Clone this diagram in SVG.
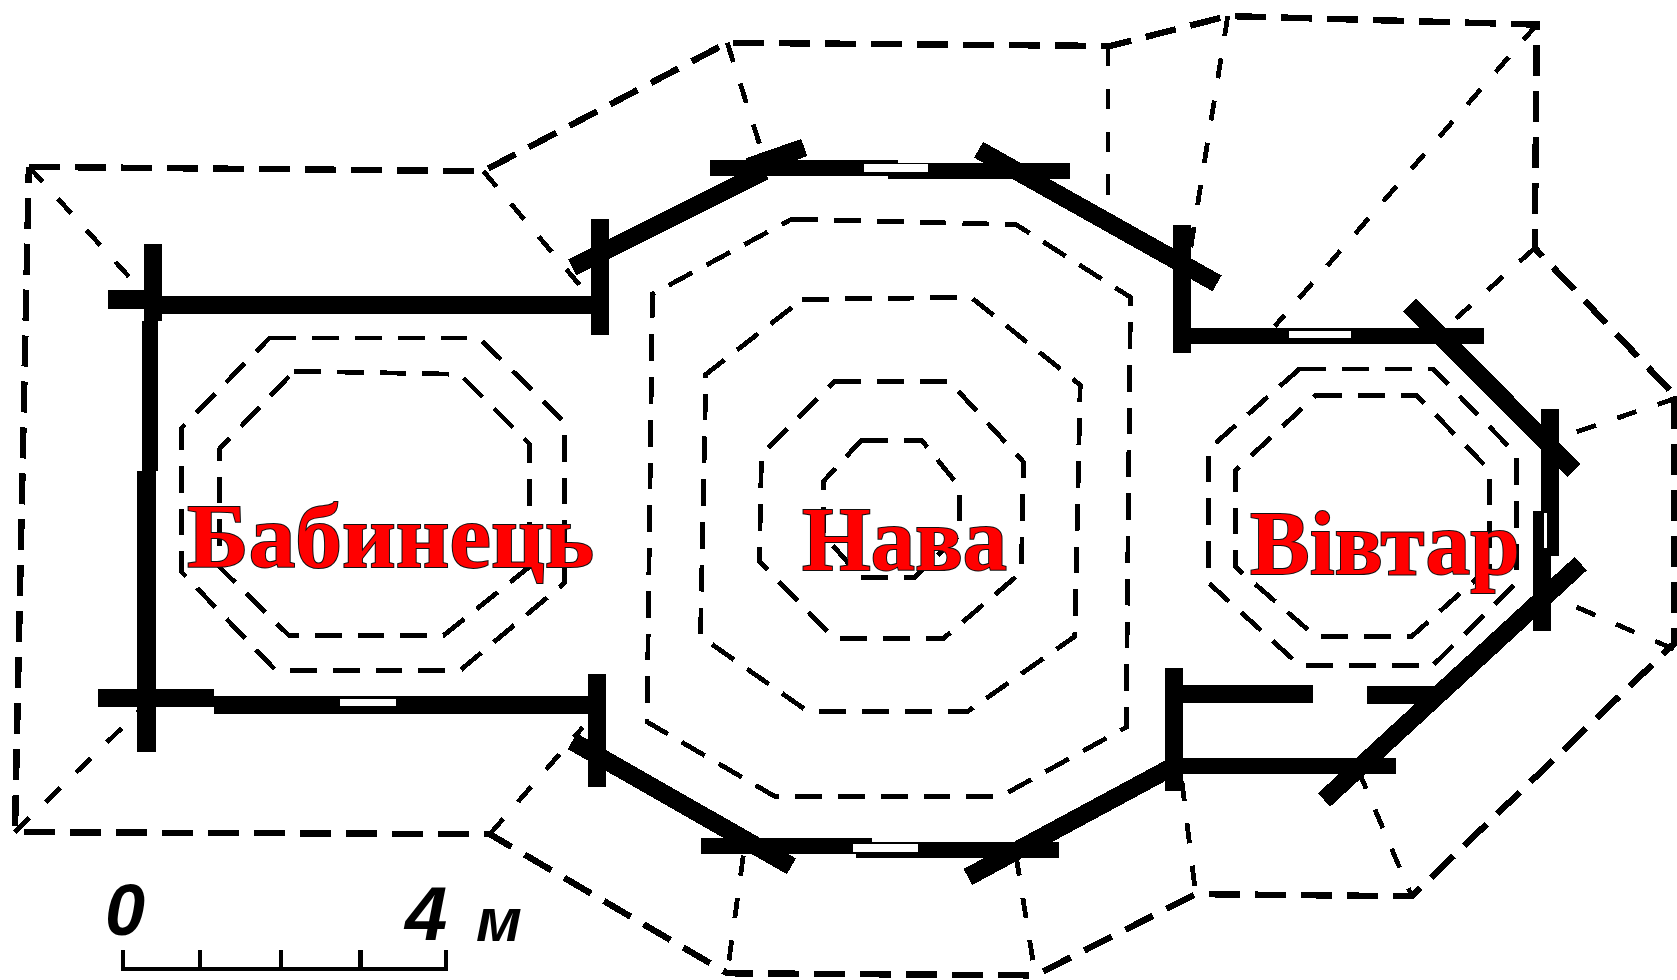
<svg xmlns="http://www.w3.org/2000/svg" width="1677" height="980" viewBox="0 0 1677 980">
<style>
.g{shape-rendering:crispEdges}
.w{fill:none;stroke:#000;stroke-width:17;stroke-linecap:butt}
.b{stroke-width:15}
.t{stroke-width:17}
.s{fill:none;stroke:#fff;stroke-width:7}
.v{stroke-width:3.5}
.d{fill:none;stroke:#000;stroke-width:4.5;stroke-dasharray:25 15}
.h{stroke-width:6;stroke-dasharray:29 14}
.f{stroke-width:4.5;stroke-dasharray:19 21}
.l{font-family:"Liberation Serif","DejaVu Serif",serif;font-size:92px;font-weight:700;fill:#f00;stroke:#111;stroke-width:2;paint-order:stroke}
.n{font-family:"Liberation Sans",Arial,sans-serif;font-style:italic;font-weight:700;fill:#000}
</style>
<rect width="1677" height="980" fill="#fff"/>
<g id="connectors" class="g" transform="scale(1.0695)">
<path class="d h" d="M27 156L452 160L680 40L1038 43L1148 15L1437 23L1435 232L1568 372"/>
<path class="d h" d="M1565 372V602L1320 838L1118 836L968 912L680 910L458 780L14 778L27 156"/>
<path class="d f" d="M27 156L140 280M452 160L555 282M680 40L715 150M1036 43V205M1148 15L1112 240M1437 23L1192 305M1435 232L1350 308M1568 372L1450 412M1565 607L1445 555M458 780L545 680M14 778L135 660M695 800L680 910M950 800L968 912M1105 730L1118 836M1270 720L1320 838"/>
</g>
<g id="walls" class="g" transform="scale(1.0695)">
<path class="w t" d="M101 280H150M150 285H555M92 653H200M200 659H555"/>
<path class="w t" d="M143 228V300M137 440V703M561 205V313M558 630V736M1105 210V330M1098 625V740M1449 382V520M1442 478V590"/>
<path class="w b" d="M140 300V440M664 157H840M830 160H1000M655 791H815M800 795H990M1110 314H1388M1100 716H1305"/>
<path class="w" d="M535 250L715 160M700 156L752 138M915 140L1138 265M535 693L740 810M905 820L1100 715M1318 285L1472 440M1478 527L1238 748"/>
<path class="w t" d="M1105 649H1228M1278 650H1345"/>
<path class="s" d="M318 657H370M808 157H868M798 793H858M1205 313H1263"/>
<path class="s v" d="M1445 480V512"/>
</g>
<g id="babynets" class="g" transform="scale(1.0695)">
<path class="d" d="M252 316H448L528 395V545L430 627H258L170 535V400Z"/>
<path class="d" d="M275 347L430 350L495 415V530L415 594H270L205 530V420Z"/>
</g>
<g id="nava" class="g" transform="scale(1.0695)">
<path class="d" d="M740 205L950 210L1057 278L1053 680L935 745H725L605 675L610 275Z"/>
<path class="d" d="M750 280L908 278L1010 360L1005 595L905 665H755L655 595L660 350Z"/>
<path class="d" d="M780 357H888L957 432L955 535L882 597H780L710 525L712 425Z"/>
<path class="d" d="M805 412H862L897 455V500L855 540H805L770 500V450Z"/>
</g>
<g id="vivtar" class="g" transform="scale(1.0695)">
<path class="d" d="M1215 345H1340L1418 425V545L1340 622H1215L1130 545V420Z"/>
<path class="d" d="M1230 370H1325L1393 440V530L1320 595H1230L1155 530V440Z"/>
</g>
<g id="scale" class="g" transform="scale(1.0695)">
<path fill="none" stroke="#000" stroke-width="4" d="M115 888V906H417V888M187 888V906M263 888V906M337 888V906"/>
</g>
<text class="n" x="105" y="935" font-size="72">0</text>
<text class="n" x="405" y="940" font-size="76">4</text>
<text class="n" x="476" y="941" font-size="62">м</text>
<text class="l" x="187" y="567" textLength="407" lengthAdjust="spacingAndGlyphs">Бабинець</text>
<text class="l" x="802" y="570" textLength="205" lengthAdjust="spacingAndGlyphs">Нава</text>
<text class="l" x="1250" y="574" textLength="270" lengthAdjust="spacingAndGlyphs">Вівтар</text>
</svg>
